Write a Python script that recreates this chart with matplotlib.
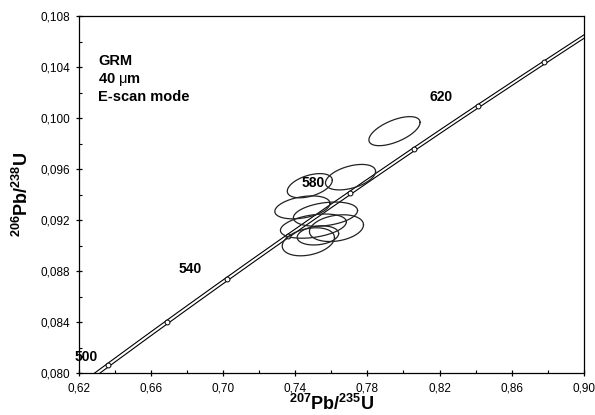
import matplotlib
matplotlib.use("Agg")
import matplotlib.pyplot as plt
import numpy as np
from matplotlib.ticker import FuncFormatter, FixedLocator

plt.rcParams["font.family"] = ["Liberation Sans", "DejaVu Sans"]
plt.rcParams["mathtext.fontset"] = "custom"
plt.rcParams["mathtext.rm"] = "Liberation Sans"
plt.rcParams["mathtext.bf"] = "Liberation Sans:bold"

# decay constants (1/yr)
L238 = 1.55125e-10
L235 = 9.8485e-10

# concordia age marks (Ma) and labelled ages
marker_ages = [480, 500, 520, 540, 560, 580, 600, 620, 640, 660]
label_ages = ["500", "540", "580", "620"]
label_x = [0.6239, 0.6817, 0.7500, 0.8206]
label_y = [0.08125, 0.08816, 0.0949, 0.10165]

# analyses: 207Pb/235U, 206Pb/238U, half-extents and correlation
pb207_u235 = [0.7950, 0.7706, 0.7480, 0.7439, 0.7567, 0.7500, 0.7472, 0.7628, 0.7525]
pb206_u238 = [0.09898, 0.09537, 0.09470, 0.09300, 0.09247, 0.09153, 0.09030, 0.09137, 0.09080]
err_x = [0.0142, 0.0139, 0.0125, 0.0153, 0.0178, 0.0183, 0.0145, 0.0150, 0.0115]
err_y = [0.00114, 0.00100, 0.00095, 0.00090, 0.00095, 0.00095, 0.00110, 0.00105, 0.00075]
rho = [0.60, 0.45, 0.45, 0.35, 0.30, 0.35, 0.30, 0.25, 0.20]

BAND_DX = 0.0015

fig = plt.figure(figsize=(5.95, 4.15), dpi=100)
ax = fig.add_axes([0.133, 0.101, 0.848, 0.860])

# concordia band
t = np.linspace(450e6, 720e6, 400)
cx = np.exp(L235 * t) - 1
cy = np.exp(L238 * t) - 1
ax.plot(cx - BAND_DX, cy, color="black", lw=0.8)
ax.plot(cx + BAND_DX, cy, color="black", lw=0.8)

ta = np.array(marker_ages) * 1e6
ax.plot(np.exp(L235 * ta) - 1, np.exp(L238 * ta) - 1, "o", ms=3.5,
        mfc="white", mec="black", mew=0.7, zorder=3)

for lab, lx, ly in zip(label_ages, label_x, label_y):
    ax.text(lx, ly, lab, fontsize=10, fontweight="bold", ha="center", va="center")

# error ellipses
th = np.linspace(0, 2 * np.pi, 200)
for x0, y0, sx, sy, r in zip(pb207_u235, pb206_u238, err_x, err_y, rho):
    ex = x0 + sx * np.cos(th)
    ey = y0 + sy * (r * np.cos(th) + np.sqrt(1 - r ** 2) * np.sin(th))
    ax.plot(ex, ey, color="#222222", lw=0.9, zorder=4)

ax.text(0.038, 0.895, "GRM\n40 $\\mathrm{\\mu}$m\nE-scan mode", transform=ax.transAxes,
        fontsize=10.5, fontweight="bold", va="top", ha="left", linespacing=1.25)

ax.set_xlim(0.62, 0.90)
ax.set_ylim(0.080, 0.108)
ax.xaxis.set_major_locator(FixedLocator(np.arange(0.62, 0.9001, 0.04)))
ax.xaxis.set_minor_locator(FixedLocator(np.arange(0.64, 0.9001, 0.04)))
ax.yaxis.set_major_locator(FixedLocator(np.arange(0.080, 0.10801, 0.004)))
ax.yaxis.set_minor_locator(FixedLocator(np.arange(0.082, 0.10801, 0.004)))
ax.xaxis.set_major_formatter(FuncFormatter(lambda v, p: f"{v:.2f}".replace(".", ",")))
ax.yaxis.set_major_formatter(FuncFormatter(lambda v, p: f"{v:.3f}".replace(".", ",")))
ax.tick_params(which="major", direction="inout", length=5, width=0.9, labelsize=8.5, pad=4)
ax.tick_params(which="minor", direction="in", length=2.5, width=0.8)
for s in ax.spines.values():
    s.set_linewidth(0.9)

ax.set_xlabel(r"$\mathbf{^{207}Pb/^{235}U}$", fontsize=13, labelpad=0)
ax.set_ylabel(r"$\mathbf{^{206}Pb/^{238}U}$", fontsize=13, labelpad=6)

fig.savefig("out.png", dpi=100)
